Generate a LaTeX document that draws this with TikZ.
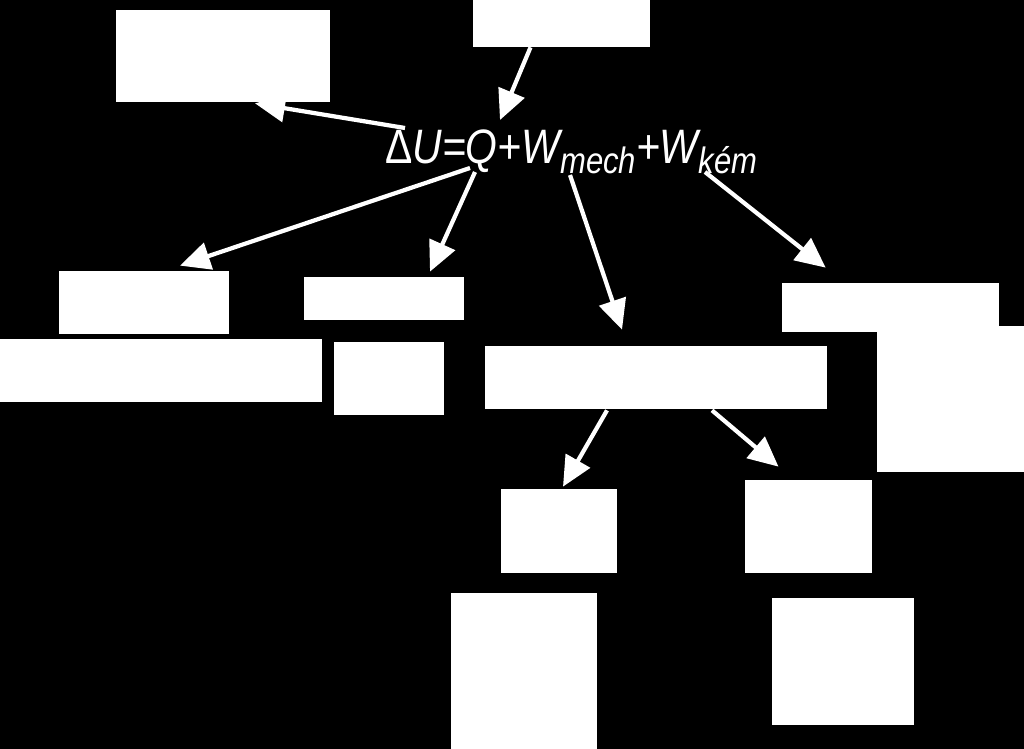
\documentclass[tikz,border=0pt]{standalone}
\usepackage{fontspec}
\newfontfamily\arialfont{Liberation Sans}
\usetikzlibrary{arrows.meta, positioning, fit, calc}

\begin{document}
\begin{tikzpicture}[
    x=0.02cm, y=-0.02cm,
    box/.style={rectangle, fill=white, inner sep=0pt},
    arrow/.style={-{Triangle[length=6mm, width=5.5mm]}, white, line width=2.4pt}
]
\fill[black] (0,0) rectangle (1024,749);
\useasboundingbox (0,0) rectangle (1024,749);
% top row
\node[box, fit={(116,10) (330,102)}] (tl) {};
\node[box, fit={(473,0) (650,47)}] (tc) {};
% formula
\node[anchor=base west, inner sep=0pt, text=white, font=\arialfont\fontsize{25}{30}\selectfont\itshape] (eq) at (385,164)
  {\scalebox{0.93}[1.1]{{\upshape Δ}U=Q+W\raisebox{-5pt}{\fontsize{19}{22}\selectfont mech}+W\raisebox{-5pt}{\fontsize{19}{22}\selectfont kém}}};
% second row
\node[box, fit={(59,271) (229,334)}] (qa) {};
\node[box, fit={(0,339) (322,402)}] (qb) {};
\node[box, fit={(304,277) (464,320)}] (qc) {};
\node[box, fit={(334,342) (444,415)}] (qd) {};
\node[box, fit={(485,346) (827,409)}] (mech) {};
\node[box, fit={(782,283) (999,332)}] (kema) {};
\node[box, fit={(877,326) (1024,472)}] (kemb) {};
% lower rows
\node[box, fit={(501,489) (617,573)}] (ma) {};
\node[box, fit={(745,480) (872,573)}] (mb) {};
\node[box, fit={(451,593) (597,749)}] (mc) {};
\node[box, fit={(772,598) (914,725)}] (md) {};
% arrows
\draw[arrow] ($(eq.base west)+(20,-36)$) -- ($(tl.south)+(32,1)$);
\draw[arrow] ($(tc.south)+(-31,0)$) -- ($(eq.base west)+(115,-44)$);
\draw[arrow] ($(eq.base west)+(85,4)$) -- ($(qa.north)+(36,-5)$);
\draw[arrow] ($(eq.base west)+(90,8)$) -- ($(qc.north)+(46,-5)$);
\draw[arrow] ($(eq.base west)+(185,11)$) -- ($(mech.north)+(-34,-16)$);
\draw[arrow] ($(eq.base west)+(320,8)$) -- ($(kema.north west)+(44,-15)$);
\draw[arrow] ($(mech.south)+(-49,1)$) -- ($(ma.north)+(4,-2)$);
\draw[arrow] ($(mech.south)+(56,1)$) -- ($(mb.north)+(-30,-13)$);
\end{tikzpicture}
\end{document}
